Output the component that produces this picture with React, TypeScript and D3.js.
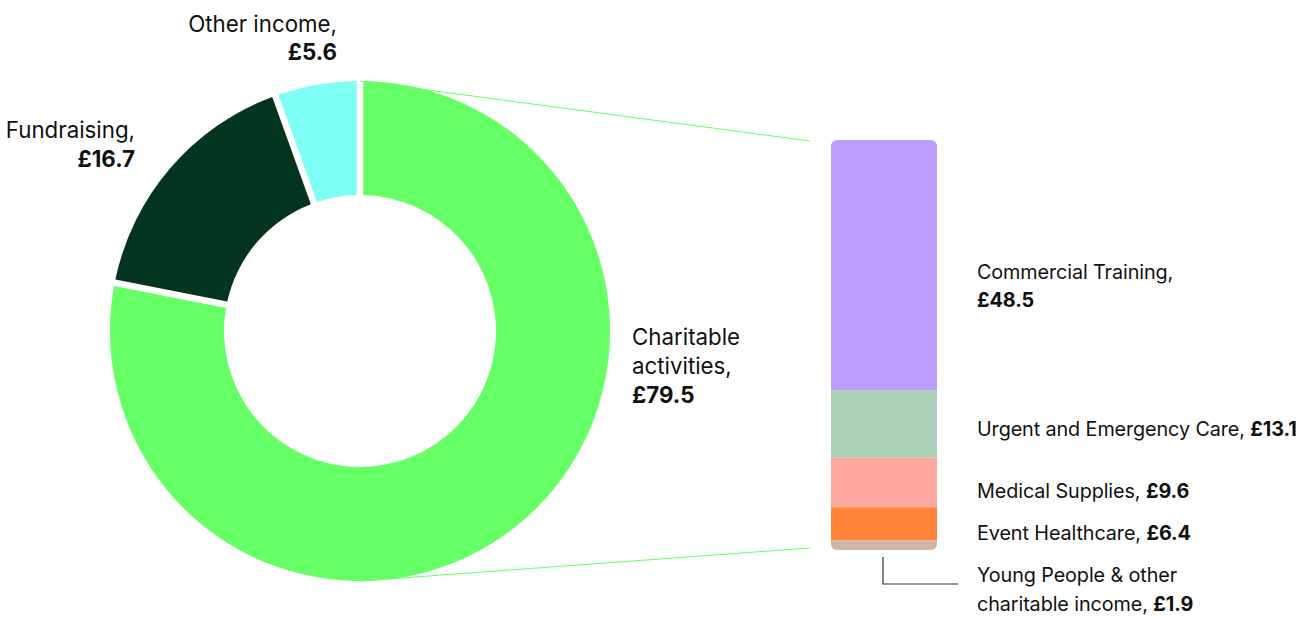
import React from "react";
import * as d3 from "d3";

const donutLabels = ["Charitable activities", "Fundraising", "Other income"];
const donutValues = [79.5, 16.7, 5.6];
const donutColors = ["#66FF66", "#02341F", "#80FFF7"];

const barLabels = ["Commercial Training", "Urgent and Emergency Care", "Medical Supplies", "Event Healthcare", "Young People & other charitable income"];
const barValues = [48.5, 13.1, 9.6, 6.4, 1.9];
const barColors = ["#BB9EFD", "#ADD0B8", "#FFA89E", "#FF8438", "#D1B6A6"];

const W = 1309;
const H = 617;
const FONT = "Inter, 'Open Sans', sans-serif";

export default function App() {
  const cx = 360, cy = 331, rOuter = 250, rInner = 136;
  const pie = d3.pie<number>().sort(null).value((d) => d);
  const arcs = pie(donutValues);
  const arcGen = d3.arc<d3.PieArcDatum<number>>()
    .innerRadius(rInner).outerRadius(rOuter)
    .padAngle(0.026).padRadius(rOuter);

  const barX = 831, barW = 106, barTop = 140, barBottom = 550;
  const total = d3.sum(barValues);
  const y = d3.scaleLinear().domain([0, total]).range([barTop, barBottom]);
  const cum = d3.cumsum(barValues);
  const starts = [0, ...Array.from(cum).slice(0, -1)];

  const txt = { fontFamily: FONT, fontSize: 22.3, fill: "#111" } as const;
  const btxt = { fontFamily: FONT, fontSize: 19.8, fill: "#111", letterSpacing: -0.1 } as const;

  return (
    <svg width={W} height={H} style={{ position: "absolute", left: 0, top: 0 }}>
      <defs>
        <clipPath id="barclip">
          <rect x={barX} y={barTop} width={barW} height={barBottom - barTop} rx={6} ry={6} />
        </clipPath>
      </defs>
      {/* connector lines */}
      <line x1={cx} y1={cy - rOuter} x2={810} y2={141} stroke="#66FF66" strokeWidth={1} />
      <line x1={cx} y1={cy + rOuter} x2={810} y2={548} stroke="#66FF66" strokeWidth={1} />
      <g transform={`translate(${cx},${cy})`}>
        {arcs.map((a, i) => (
          <path key={i} d={arcGen(a) || ""} fill={donutColors[i]} />
        ))}
      </g>
      <g clipPath="url(#barclip)">
        {barValues.map((v, i) => (
          <rect key={i} x={barX} y={y(starts[i])} width={barW} height={y(starts[i] + v) - y(starts[i])} fill={barColors[i]} />
        ))}
      </g>
      <path d={`M883,557 V584 H958`} fill="none" stroke="#333" strokeWidth={1.2} />

      {/* donut labels */}
      <text {...txt} x={337} y={32} textAnchor="end">Other income,</text>
      <text {...txt} x={337} y={60} textAnchor="end" fontWeight={700}>£{donutValues[2]}</text>
      <text {...txt} x={135} y={138} textAnchor="end">Fundraising,</text>
      <text {...txt} x={135} y={167} textAnchor="end" fontWeight={700}>£{donutValues[1]}</text>
      <text {...txt} x={632} y={345}>Charitable</text>
      <text {...txt} x={632} y={374}>activities,</text>
      <text {...txt} x={632} y={403} fontWeight={700}>£{donutValues[0]}</text>

      {/* bar labels */}
      <text {...btxt} x={977} y={279}>{barLabels[0]},</text>
      <text {...btxt} x={977} y={307} fontWeight={700}>£{barValues[0]}</text>
      <text {...btxt} x={977} y={436}>{barLabels[1]}, <tspan fontWeight={700}>£{barValues[1]}</tspan></text>
      <text {...btxt} x={977} y={498}>{barLabels[2]}, <tspan fontWeight={700}>£{barValues[2]}</tspan></text>
      <text {...btxt} x={977} y={540}>{barLabels[3]}, <tspan fontWeight={700}>£{barValues[3]}</tspan></text>
      <text {...btxt} x={977} y={582}>Young People &amp; other</text>
      <text {...btxt} x={977} y={611}>charitable income, <tspan fontWeight={700}>£{barValues[4]}</tspan></text>
    </svg>
  );
}
